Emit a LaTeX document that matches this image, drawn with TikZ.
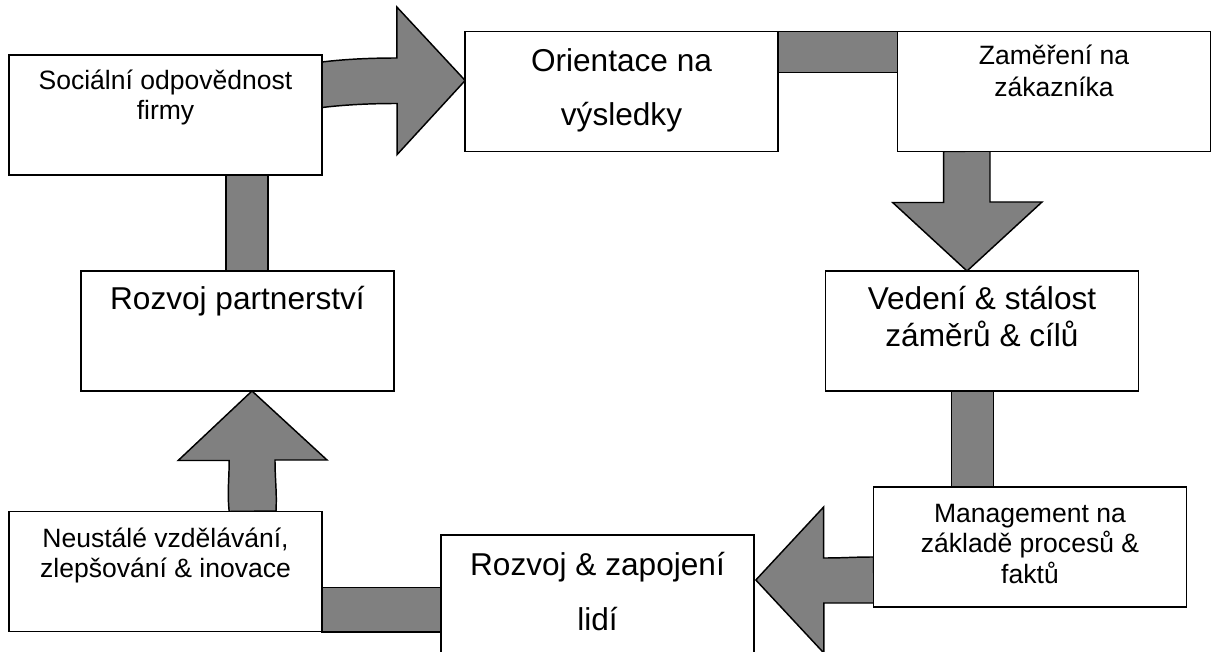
\documentclass[tikz,border=0pt]{standalone}
\usepackage{fontspec}
\setmainfont{Liberation Sans}
\usetikzlibrary{calc}
\definecolor{shaftgray}{RGB}{128,128,128}
\newcommand{\smf}{\fontsize{19.9pt}{24pt}\selectfont}
\newcommand{\lgf}{\fontsize{23.7pt}{28pt}\selectfont}
\pgfdeclarelayer{bottom}
\pgfdeclarelayer{background}
\pgfsetlayers{bottom,background,main}
\begin{document}
\begin{tikzpicture}[x=0.75pt,y=-0.75pt,
  box/.style={draw=black, fill=white, line width=1.1pt, minimum width=234.5pt, minimum height=90pt, inner sep=0pt, outer sep=0pt},
  shaft/.style={draw=black, fill=shaftgray, line width=1.1pt, line join=miter},
  smalltxt/.style={font=\smf, inner sep=0pt, anchor=base},
  largetxt/.style={font=\lgf, inner sep=0pt, anchor=base}]
\useasboundingbox (0,0) rectangle (1211,652);
\begin{pgfonlayer}{bottom}
\fill[white] (0,0) rectangle (1211,652);
\end{pgfonlayer}

% boxes
\node[box] (soc) at (165.5,115) {};
\node[box] (ori) at (621.5,91.5) {};
\node[box] (zak) at (1054,91.5) {};
\node[box] (ved) at (982,331) {};
\node[box] (man) at (1030,547) {};
\node[box] (lid) at (597.5,595) {};
\node[box] (neu) at (165.5,571.5) {};
\node[box] (par) at (237.5,331) {};

% texts
\node[smalltxt] (socA) at ($(soc.north)+(0,35)$) {Sociální odpovědnost};
\node[smalltxt] (socB) at ($(soc.north)+(0,65)$) {firmy};
\node[largetxt] (oriA) at ($(ori.north)+(0,40)$) {Orientace na};
\node[largetxt] (oriB) at ($(ori.north)+(0,94)$) {výsledky};
\node[smalltxt] (zakA) at ($(zak.north)+(0,33.5)$) {Zaměření na};
\node[smalltxt] (zakB) at ($(zak.north)+(0,65)$) {zákazníka};
\node[largetxt] (vedA) at ($(ved.north)+(0,39)$) {Vedení \& stálost};
\node[largetxt] (vedB) at ($(ved.north)+(0,76)$) {záměrů \& cílů};
\node[smalltxt] (manA) at ($(man.north)+(0,35)$) {Management na};
\node[smalltxt] (manB) at ($(man.north)+(0,65)$) {základě procesů \&};
\node[smalltxt] (manC) at ($(man.north)+(0,96)$) {faktů};
\node[largetxt] (lidA) at ($(lid.north)+(0,40)$) {Rozvoj \& zapojení};
\node[largetxt] (lidB) at ($(lid.north)+(0,95)$) {lidí};
\node[smalltxt] (neuA) at ($(neu.north)+(0,36)$) {Neustálé vzdělávání,};
\node[smalltxt] (neuB) at ($(neu.north)+(0,66)$) {zlepšování \& inovace};
\node[largetxt] (parA) at ($(par.north)+(0,39)$) {Rozvoj partnerství};

\begin{pgfonlayer}{background}
% plain connectors
\draw[shaft] ($(soc.south west)+(217,0)$) rectangle ($(par.north west)+(187,0)$);
\draw[shaft] (ori.north east) rectangle ($(zak.north west)+(0,41)$);
\draw[shaft] ($(ved.south west)+(126,0)$) rectangle ($(man.north west)+(120,0)$);
\draw[shaft] ($(neu.south east)+(0,-44)$) rectangle ($(lid.north west)+(0,97)$);

% arrow soc -> ori
\draw[shaft] ($(soc.north east)+(0,7)$)
  .. controls +(25,-3) and +(-25,0) .. ++(75,-4)
  -- ++(0,-51)
  -- ($(ori.north west)+(0,49)$)
  -- ++(-68,74)
  -- ++(0,-51)
  .. controls +(-25,0) and +(25,-3) .. ++(-75,4)
  -- cycle;

% arrow zak -> ved
\draw[shaft] ($(zak.south west)+(46,0)$)
  -- ++(0,51) -- ++(-51,0)
  -- ($(ved.north)+(-15,0)$)
  -- ++(75,-69) -- ++(-52,0) -- ++(0,-51) -- cycle;

% arrow man -> lid
\draw[shaft] ($(man.north west)+(0,70)$)
  .. controls +(-20,0) and +(20,0) .. ++(-50,1)
  -- ++(0,-51)
  -- ($(lid.north east)+(2,45)$)
  -- ++(68,73) -- ++(0,-50) -- ++(50,0) -- cycle;

% arrow neu -> par
\draw[shaft] ($(neu.north west)+(220,0)$)
  .. controls +(-2,-20) and +(0,20) .. ++(0,-51)
  -- ++(-51,0)
  -- ($(par.south)+(14.5,0)$)
  -- ++(75,69) -- ++(-52,0)
  .. controls +(0,20) and +(1,-20) .. ++(1,51)
  -- cycle;
\end{pgfonlayer}
\end{tikzpicture}
\end{document}
